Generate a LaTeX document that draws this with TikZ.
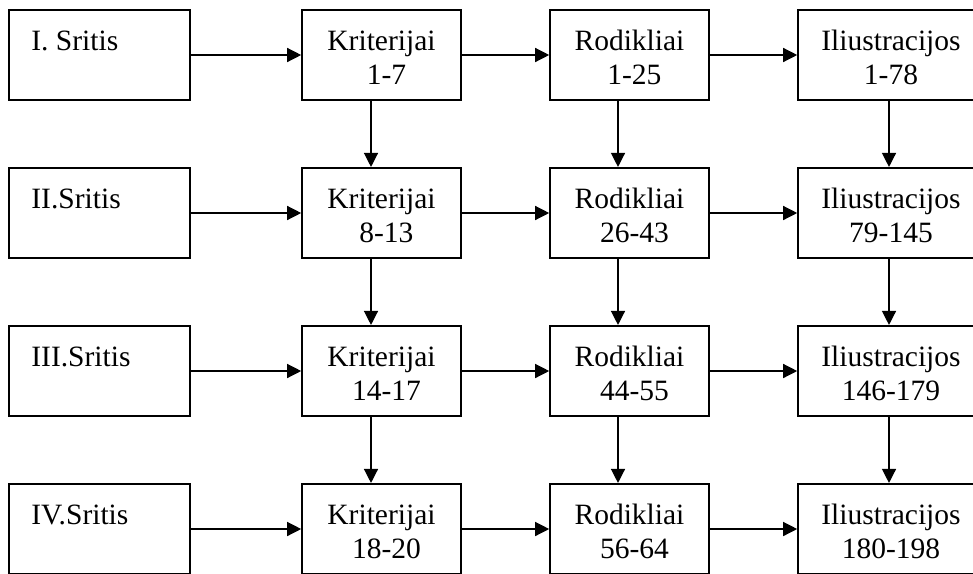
\documentclass[tikz,border=0pt]{standalone}
\usepackage{fontspec}
\setmainfont{Liberation Serif}
\usetikzlibrary{arrows.meta}

\tikzset{
  box/.style={draw, line width=1.6pt, rectangle, inner sep=0pt,
              minimum height=90.5pt},
  wide/.style={box, minimum width=181pt},
  cell/.style={box, minimum width=159pt},
  lastcell/.style={box, minimum width=189pt},
  txt/.style={inner sep=0pt, font=\fontsize{29.5}{34}\selectfont},
  ctxt/.style={txt, align=center, text width=185pt, anchor=base},
  arr/.style={line width=1.3pt, -{Triangle[length=14pt,width=14pt]}}
}

\begin{document}
\begin{tikzpicture}[x=1pt, y=-1pt]
  \useasboundingbox (0,0) rectangle (973,573);
  \fill[white] (0,0) rectangle (973,573);
  \clip (0,0) rectangle (973,573);

  % areas (left column)
  \node[wide] (s1) at (99.5,55) {};
  \node[wide] (s2) at (99.5,213){};
  \node[wide] (s3) at (99.5,371){};
  \node[wide] (s4) at (99.5,529){};
  \node[txt, anchor=base west] (s1t) at ([xshift=23pt,yshift=-42pt]s1.north west) {I. Sritis};
  \node[txt, anchor=base west] (s2t) at ([xshift=23pt,yshift=-42pt]s2.north west) {II.Sritis};
  \node[txt, anchor=base west] (s3t) at ([xshift=23pt,yshift=-42pt]s3.north west) {III.Sritis};
  \node[txt, anchor=base west] (s4t) at ([xshift=23pt,yshift=-42pt]s4.north west) {IV.Sritis};

  % criteria
  \node[cell] (k1) at (381.5,55) {};
  \node[cell] (k2) at (381.5,213){};
  \node[cell] (k3) at (381.5,371){};
  \node[cell] (k4) at (381.5,529){};
  \node[ctxt] (k1t) at ([yshift=-42pt]k1.north) {Kriterijai\\~1-7};
  \node[ctxt] (k2t) at ([yshift=-42pt]k2.north) {Kriterijai\\~8-13};
  \node[ctxt] (k3t) at ([yshift=-42pt]k3.north) {Kriterijai\\~14-17};
  \node[ctxt] (k4t) at ([yshift=-42pt]k4.north) {Kriterijai\\~18-20};

  % indicators
  \node[cell] (r1) at (629.5,55) {};
  \node[cell] (r2) at (629.5,213){};
  \node[cell] (r3) at (629.5,371){};
  \node[cell] (r4) at (629.5,529){};
  \node[ctxt] (r1t) at ([yshift=-42pt]r1.north) {Rodikliai\\~1-25};
  \node[ctxt] (r2t) at ([yshift=-42pt]r2.north) {Rodikliai\\~26-43};
  \node[ctxt] (r3t) at ([yshift=-42pt]r3.north) {Rodikliai\\~44-55};
  \node[ctxt] (r4t) at ([yshift=-42pt]r4.north) {Rodikliai\\~56-64};

  % illustrations
  \node[lastcell] (i1) at (892.5,55) {};
  \node[lastcell] (i2) at (892.5,213){};
  \node[lastcell] (i3) at (892.5,371){};
  \node[lastcell] (i4) at (892.5,529){};
  \node[ctxt] (i1t) at ([xshift=-1.5pt,yshift=-42pt]i1.north) {Iliustracijos\\1-78};
  \node[ctxt] (i2t) at ([xshift=-1.5pt,yshift=-42pt]i2.north) {Iliustracijos\\79-145};
  \node[ctxt] (i3t) at ([xshift=-1.5pt,yshift=-42pt]i3.north) {Iliustracijos\\146-179};
  \node[ctxt] (i4t) at ([xshift=-1.5pt,yshift=-42pt]i4.north) {Iliustracijos\\180-198};

  % horizontal connectors
  \foreach \n in {1,2,3,4}{
    \draw[arr] (s\n.east) -- (k\n.west);
    \draw[arr] (k\n.east) -- (r\n.west);
    \draw[arr] (r\n.east) -- (i\n.west);
  }

  % vertical connectors
  \foreach \a/\b in {1/2,2/3,3/4}{
    \draw[arr] ([xshift=-10.5pt]k\a.south) -- ([xshift=-10.5pt]k\b.north);
    \draw[arr] ([xshift=-11.5pt]r\a.south) -- ([xshift=-11.5pt]r\b.north);
    \draw[arr] ([xshift=-3.5pt]i\a.south) -- ([xshift=-3.5pt]i\b.north);
  }
\end{tikzpicture}
\end{document}
